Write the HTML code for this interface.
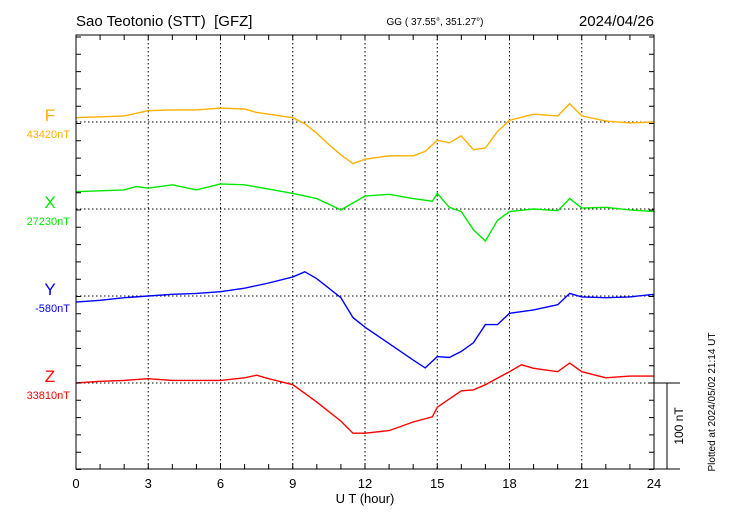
<!DOCTYPE html>
<html><head><meta charset="utf-8"><style>
body{margin:0;background:#fff;}
svg{display:block;font-family:"Liberation Sans",sans-serif;}
</style></head><body>
<svg id="chart" width="730" height="520">
<text x="76" y="26" font-size="15">Sao Teotonio (STT)&#160;&#160;[GFZ]</text>
<text x="435" y="25" font-size="10" text-anchor="middle">GG ( 37.55°, 351.27°)</text>
<text x="654" y="26" font-size="15" text-anchor="end">2024/04/26</text>
<text x="365" y="503" font-size="13" text-anchor="middle">U T (hour)</text>
<text transform="translate(715,402) rotate(-90)" font-size="10" text-anchor="middle">Plotted at 2024/05/02 21:14 UT</text>
<text transform="translate(683,426) rotate(-90)" font-size="12" text-anchor="middle">100 nT</text>
<g id="grid"></g><g id="series"></g><g id="axes"></g>
</svg>
<script>
const xTicks=[0,3,6,9,12,15,18,21,24];
const compNames=["F","X","Y","Z"];
const compBase=["43420nT","27230nT","-580nT","33810nT"];
const compColors=["#ffb000","#00e800","#0000ff","#ff0000"];
const tF=[0,1,2,2.5,3,4,5,6,7,7.5,8,9,9.5,10,10.5,11,11.5,12,13,14,14.5,15,15.5,16,16.5,17,17.5,18,19,20,20.5,21,22,23,24];
const vF=[5,6,7,10,13,14,14,16,15,11,9,5,-2,-13,-26,-38,-48,-43,-39,-39,-34,-21,-24,-16,-32,-30,-11,2,9,7,21,7,1,-1,0];
const tX=[0,2,2.5,3,4,5,6,7,8,9,10,11,12,13,14,14.8,15,15.5,16,16.5,17,17.5,18,19,20,20.5,21,22,23,24];
const vX=[20,22,26,24,28,22,29,28,23,18,12,-1,15,17,12,9,18,2,-3,-24,-37,-13,-3,0,-2,12,1,2,-1,-3];
const tY=[0,1,2,3,4,5,6,7,8,9,9.5,10,11,11.5,12,13,14,14.5,15,15.5,16,16.5,17,17.5,18,19,20,20.5,21,22,23,24];
const vY=[-7,-5,-2,0,2,3,5,9,15,22,28,20,-2,-25,-36,-55,-74,-83,-70,-71,-64,-54,-33,-33,-20,-16,-10,3,-1,-2,-1,2];
const tZ=[0,1,2,3,4,5,6,7,7.5,8,9,10,11,11.5,12,13,14,14.8,15,16,16.5,17,18,18.5,19,20,20.5,21,22,23,24];
const vZ=[0,2,3,5,3,3,3,6,9,5,-2,-22,-44,-58,-58,-55,-45,-39,-28,-9,-8,-2,13,21,17,13,23,13,6,8,8];
const L=76,R=654,T=35,B=469;
const bases=[122,209,296,383];
const pxPerNT=0.866;
function X(h){return L+(R-L)*h/24;}
function Yv(i,nt){return bases[i]-nt*pxPerNT;}
const NS="http://www.w3.org/2000/svg";
function mk(tag,attrs,parent){const e=document.createElementNS(NS,tag);for(const k in attrs)e.setAttribute(k,attrs[k]);parent.appendChild(e);return e;}
const grid=document.getElementById('grid'),ser=document.getElementById('series'),ax=document.getElementById('axes');
xTicks.forEach(h=>{if(h>0&&h<24){const l=mk('line',{x1:X(h),x2:X(h),y1:T,y2:B,stroke:'#000','stroke-width':1,'stroke-dasharray':'1.5,2.5'},grid);

}});
bases.forEach(b=>{const l=mk('line',{x1:L,x2:R,y1:b,y2:b,stroke:'#000','stroke-width':1,'stroke-dasharray':'1.5,2.5'},grid);

});
const times=[tF,tX,tY,tZ],vals=[vF,vX,vY,vZ];
for(let i=0;i<4;i++){
 const d=times[i].map((t,j)=>(j?'L':'M')+X(t).toFixed(1)+','+Yv(i,vals[i][j]).toFixed(1)).join('');
 const p=mk('path',{d:d,fill:'none',stroke:compColors[i],'stroke-width':1.4},ser);
 
 
 const n=mk('text',{x:50,y:bases[i]-1,'font-size':17,fill:compColors[i],'text-anchor':'middle'},ax);n.textContent=compNames[i];
 
 
 const bt=mk('text',{x:70,y:bases[i]+16,'font-size':11,fill:compColors[i],'text-anchor':'end'},ax);bt.textContent=compBase[i];
 
 
}
const frame=mk('path',{d:`M${L},${T}H${R}V${B}H${L}Z`,fill:'none',stroke:'#000','stroke-width':1},ax);


let tk='';
for(let h=0;h<=24;h++){tk+=`M${X(h)},${T}v5M${X(h)},${B}v-5`;}
for(let y=383+17.3*5;y>T;y-=17.3){tk+=`M${L},${y}h5M${R},${y}h-5`;}
tk+=`M${R},383H680M${R},${B}H680M667,383V${B}`;
const ticks=mk('path',{d:tk,stroke:'#000','stroke-width':1,fill:'none'},ax);


xTicks.forEach(h=>{const t=mk('text',{x:X(h),y:488,'font-size':13,'text-anchor':'middle'},ax);t.textContent=h;

});
</script>
</body></html>
